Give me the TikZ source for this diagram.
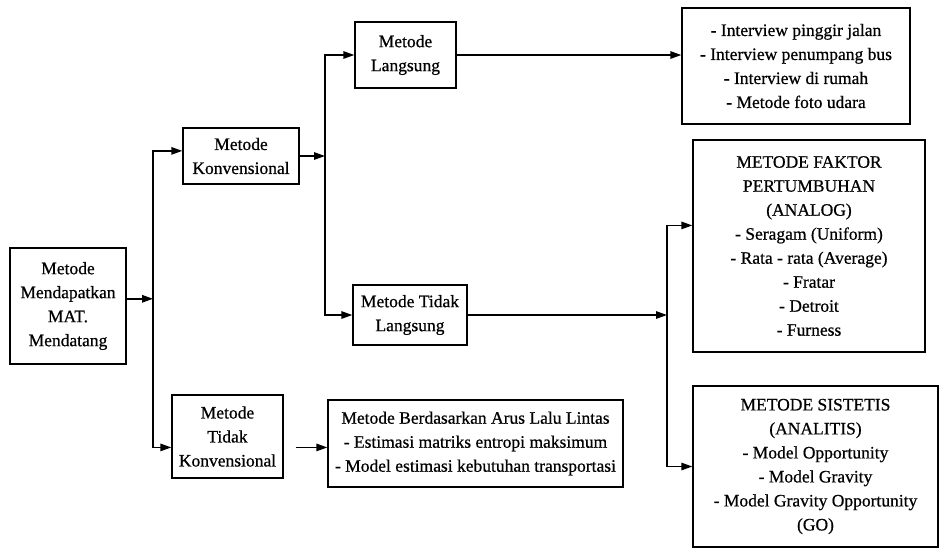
\documentclass[tikz,border=0pt]{standalone}
\usepackage{fontspec}
\setmainfont[FakeBold=0.6]{Liberation Serif}
\usetikzlibrary{arrows.meta}

\begin{document}
\begin{tikzpicture}[x=1pt,y=-1pt, line width=1.4pt,
      every node/.style={font=\fontsize{17.5}{24}\selectfont},
      box/.style={draw,align=center,inner sep=1pt},
      arr/.style={-{Triangle[length=11pt,width=7.5pt]}}]
  \useasboundingbox (0,0) rectangle (940,550);
  \node[box,minimum width=116pt,minimum height=116pt] (root) at (68,306) {Metode\\Mendapatkan\\MAT.\\Mendatang};
  \node[box,minimum width=116pt,minimum height=56pt] (konv) at (241,156) {Metode\\Konvensional};
  \node[box,minimum width=111pt,minimum height=83pt] (tkonv) at (227.5,436.5) {Metode\\Tidak\\Konvensional};
  \node[box,minimum width=101pt,minimum height=66pt] (lang) at (405.5,55) {Metode\\Langsung};
  \node[box,minimum width=114pt,minimum height=60pt] (tlang) at (410,315) {Metode Tidak\\Langsung};
  \node[box,minimum width=295pt,minimum height=87pt] (arus) at (475.5,443.5) {Metode Berdasarkan Arus Lalu Lintas\\- Estimasi matriks entropi maksimum\\- Model estimasi kebutuhan transportasi};
  \node[box,minimum width=228pt,minimum height=116pt] (intv) at (796,66) {- Interview pinggir jalan\\- Interview penumpang bus\\- Interview di rumah\\- Metode foto udara};
  \node[box,minimum width=232pt,minimum height=212pt] (faktor) at (809,246) {METODE FAKTOR\\PERTUMBUHAN\\(ANALOG)\\- Seragam (Uniform)\\- Rata - rata (Average)\\- Fratar\\- Detroit\\- Furness};
  \node[box,minimum width=245pt,minimum height=161pt] (sistetis) at (815.5,466.5) {METODE SISTETIS\\(ANALITIS)\\- Model Opportunity\\- Model Gravity\\- Model Gravity Opportunity\\(GO)};
  % trunks
  \coordinate (j1) at (153,0);
  \coordinate (j2) at (325,0);
  \coordinate (j3) at (667,0);
  \draw[arr] (root.7) -- (root.7 -| j1);
  \draw[arr] (root.7 -| j1) |- (konv.175);
  \draw[arr] (root.7 -| j1) |- (tkonv.191);
  \draw[arr] (konv.east) -- (konv.east -| j2);
  \draw[arr] (konv.east -| j2) |- (lang.west);
  \draw[arr] (konv.east -| j2) |- (tlang.west);
  \draw[arr] (lang.east) -- (lang.east -| intv.west);
  \draw[arr,shorten <=12pt] (tkonv.-11) -- (tkonv.-11 -| arus.west);
  \draw[arr] (tlang.east) -- (tlang.east -| j3);
  \draw[arr] (tlang.east -| j3) |- (faktor.170);
  \draw[arr] (tlang.east -| j3) |- (sistetis.west);
\end{tikzpicture}
\end{document}
